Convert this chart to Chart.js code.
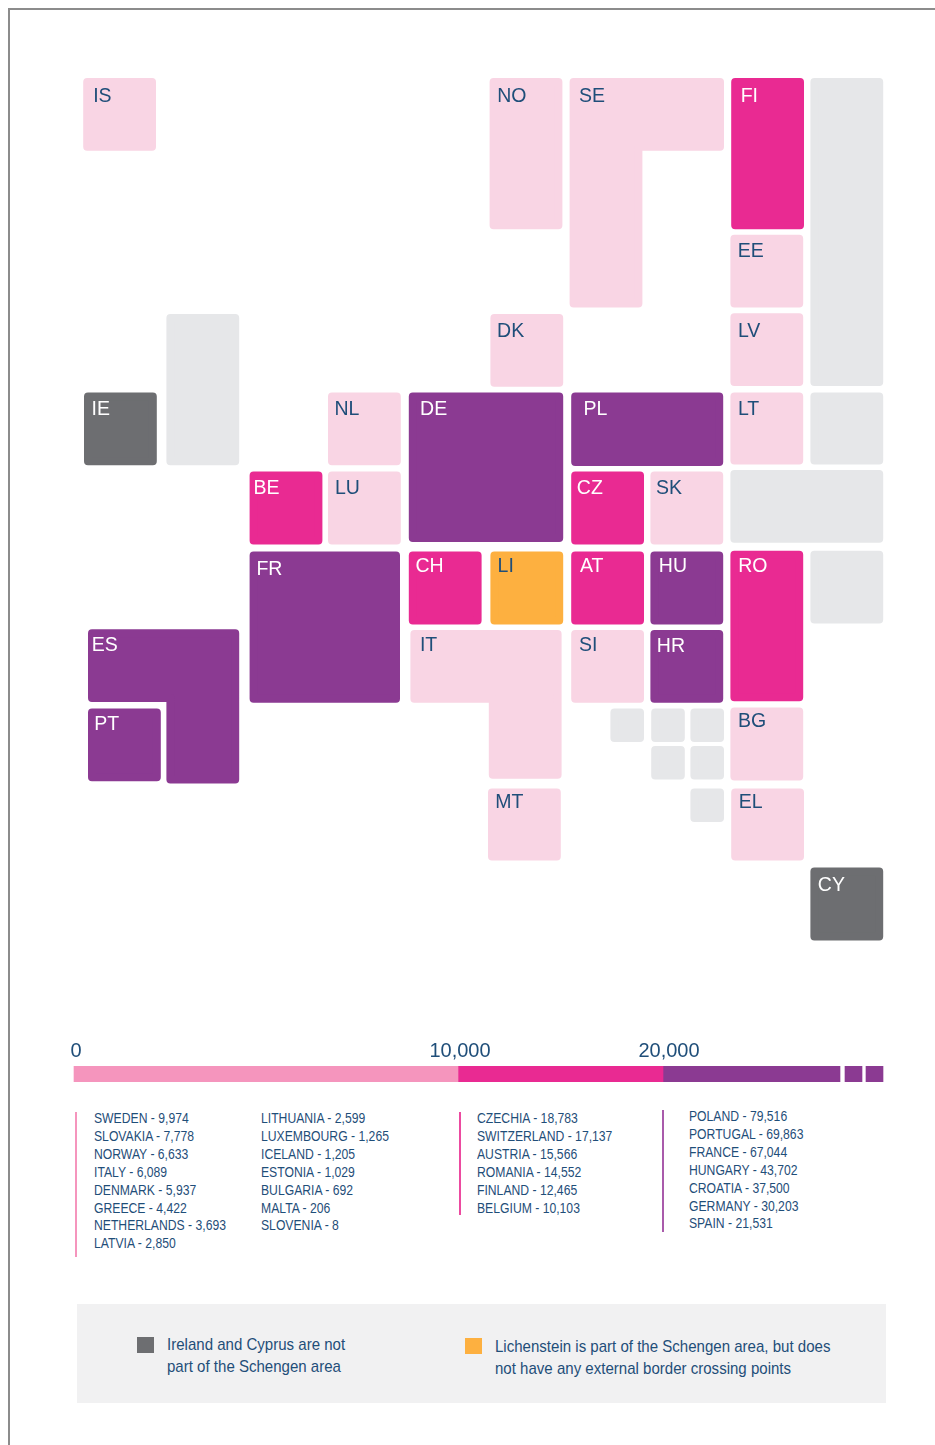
<!DOCTYPE html>
<html>
<head>
<meta charset="utf-8">
<title>External border crossing points</title>
<script src="https://cdn.jsdelivr.net/npm/chart.js@4"></script>
<style>
  html, body { margin: 0; padding: 0; background: #fff; }
  body { position: relative; width: 935px; height: 1445px; overflow: hidden; font-family: "Liberation Sans", Arial, sans-serif; color: #1f4e79; }
  canvas { position: absolute; left: 0; }
  #frameTop { position: absolute; left: 8px; top: 8px; right: 0; height: 2px; background: #8c8c8c; }
  #frameLeft { position: absolute; left: 8px; top: 8px; bottom: 0; width: 2px; background: #8c8c8c; }
  .list { position: absolute; font-size: 14px; line-height: 17.9px; white-space: nowrap; transform: scaleX(.87); transform-origin: left top; }
  .rule { position: absolute; width: 2px; }
  #noteBox { position: absolute; left: 77px; top: 1304px; width: 809px; height: 99px; background: #f1f1f2; }
  .swatch { position: absolute; width: 17px; height: 16px; }
  .note { position: absolute; font-size: 17px; line-height: 22px; white-space: nowrap; transform: scaleX(.885); transform-origin: left top; }
</style>
</head>
<body>
<div id="frameTop"></div>
<div id="frameLeft"></div>
<canvas id="mapChart" width="935" height="1000" style="top:0"></canvas>
<canvas id="barChart" width="935" height="60" style="top:1030px"></canvas>
<div class="rule" style="left:75px;top:1112px;height:145px;background:#f595bd"></div>
<div class="rule" style="left:459px;top:1112px;height:103px;background:#ec4aa0"></div>
<div class="rule" style="left:662px;top:1110px;height:122px;background:#a95bab"></div>
<div class="list" id="list1" style="left:94px;top:1110px"></div>
<div class="list" id="list2" style="left:261px;top:1110px"></div>
<div class="list" id="list3" style="left:477px;top:1110px"></div>
<div class="list" id="list4" style="left:689px;top:1108px"></div>
<div id="noteBox"></div>
<div class="swatch" style="left:137px;top:1337px;background:#6d6e71"></div>
<div class="note" style="left:167px;top:1334px">Ireland and Cyprus are not<br>part of the Schengen area</div>
<div class="swatch" style="left:465px;top:1338px;background:#fdb040"></div>
<div class="note" style="left:495px;top:1336px">Lichenstein is part of the Schengen area, but does<br>not have any external border crossing points</div>

<script>
// Countries and values
const countryCodes = ['SE','SK','NO','IT','DK','EL','NL','LV','LT','LU','IS','EE','BG','MT','SI','CZ','CH','AT','RO','FI','BE','PL','PT','FR','HU','HR','DE','ES'];
const countryNames = ['SWEDEN','SLOVAKIA','NORWAY','ITALY','DENMARK','GREECE','NETHERLANDS','LATVIA','LITHUANIA','LUXEMBOURG','ICELAND','ESTONIA','BULGARIA','MALTA','SLOVENIA','CZECHIA','SWITZERLAND','AUSTRIA','ROMANIA','FINLAND','BELGIUM','POLAND','PORTUGAL','FRANCE','HUNGARY','CROATIA','GERMANY','SPAIN'];
const countryValues = [9974,7778,6633,6089,5937,4422,3693,2850,2599,1265,1205,1029,692,206,8,18783,17137,15566,14552,12465,10103,79516,69863,67044,43702,37500,30203,21531];

// Tile grid, in grid cells. Empty code = country outside the data (grey)
const tileCodes = ['IS','NO','SE','FI','','EE','DK','LV','','IE','NL','DE','PL','LT','','BE','LU','CZ','SK','','FR','CH','LI','AT','HU','RO','','ES','PT','IT','SI','HR','BG','','','','','','','MT','EL','CY'];
const tileCols = [-0.01,5.07,6.07,8.09,9.08,8.08,5.08,8.08,1.03,0,3.05,4.06,6.09,8.08,9.08,2.07,3.05,6.09,7.08,8.08,2.07,4.06,5.08,6.09,7.08,8.08,9.08,0.05,0.05,4.08,6.09,7.08,8.08,6.58,7.09,7.58,7.09,7.58,7.58,5.05,8.09,9.08];
const tileRows = [0,0,0,0,0,1.96,2.95,2.94,2.95,3.93,3.93,3.93,3.93,3.93,3.93,4.92,4.92,4.92,4.92,4.9,5.92,5.92,5.92,5.92,5.92,5.91,5.91,6.89,7.88,6.9,6.9,6.9,7.87,7.88,7.88,7.88,8.35,8.35,8.88,8.88,8.88,9.87];
const tileWidths = [0.91,0.91,1.93,0.91,0.91,0.91,0.91,0.91,0.91,0.91,0.91,1.93,1.9,0.91,0.91,0.91,0.91,0.91,0.91,1.91,1.88,0.91,0.91,0.91,0.91,0.91,0.91,1.89,0.91,1.89,0.91,0.91,0.91,0.42,0.42,0.42,0.42,0.42,0.42,0.91,0.91,0.91];
const tileHeights = [0.91,1.89,2.87,1.89,3.85,0.91,0.91,0.91,1.89,0.91,0.91,1.87,0.92,0.9,0.9,0.91,0.91,0.91,0.91,0.91,1.89,0.91,0.91,0.91,0.91,1.88,0.91,1.93,0.91,1.86,0.91,0.91,0.91,0.42,0.42,0.42,0.42,0.42,0.42,0.9,0.9,0.91];
// L shaped tiles: [notch width, notch height], negative width = notch on the left
const tileNotches = { SE: [1.02, 1.96], ES: [-0.98, 1.02], IT: [-0.98, 0.95] };

// Scale bar
const bandLabels = ['0', '10,000', '20,000'];
const bandLengths = [384, 205, 177, 5, 17, 4, 17];
const bandTicks = [2, 386, 595];

const PALE = '#f9d5e4', BAND_PINK = '#f595bd', MAGENTA = '#e92a92', PURPLE = '#8b3a92';
const GREY = '#e6e7e9', DARK = '#6d6e71', ORANGE = '#fdb040', NAVY = '#1f4e79';

const labelOffsets = {
  IS:[9,24], NO:[6.6,24], SE:[8.5,24], FI:[8.5,24], EE:[6.3,23], DK:[5.7,23], LV:[6.5,24], IE:[6.5,23.3],
  NL:[5.5,23.3], DE:[10.3,23.3], PL:[11.3,23.3], LT:[6.5,23.3], BE:[3,23], LU:[5.9,23], CZ:[4.6,23], SK:[4.7,23],
  FR:[5.8,24], CH:[5.6,20.5], LI:[6.2,21], AT:[7.8,21], HU:[7.4,21], RO:[6.8,22], ES:[2.7,22], PT:[5.2,21.6],
  IT:[8.5,21.7], SI:[6.9,21.7], HR:[5.4,22.7], BG:[6.5,19.5], MT:[6.3,20.3], EL:[6.5,20.3], CY:[6.4,24]
};

function tileColour(code) {
  if (code === '') return GREY;
  if (code === 'IE' || code === 'CY') return DARK;
  if (code === 'LI') return ORANGE;
  const value = countryValues[countryCodes.indexOf(code)];
  if (value > 20000) return PURPLE;
  if (value > 10000) return MAGENTA;
  return PALE;
}

// closed outline of a tile, pulled in by the stroke so the round joins give the corners
const CORNER = 0.05;
function tileOutline(i) {
  const r = CORNER;
  const x0 = tileCols[i] + r, y0 = tileRows[i] + r;
  const x1 = tileCols[i] + tileWidths[i] - r, y1 = tileRows[i] + tileHeights[i] - r;
  const notch = tileNotches[tileCodes[i]];
  let pts;
  if (!notch) {
    pts = [[x0,y0],[x1,y0],[x1,y1],[x0,y1]];
  } else if (notch[0] > 0) {
    const nx = x1 - notch[0], ny = y1 - notch[1];
    pts = [[x0,y0],[x1,y0],[x1,ny],[nx,ny],[nx,y1],[x0,y1]];
  } else {
    const nx = x0 - notch[0], ny = y1 - notch[1];
    pts = [[x0,y0],[x1,y0],[x1,y1],[nx,y1],[nx,ny],[x0,ny]];
  }
  pts.push(pts[0]);
  return pts.map(p => ({ x: p[0], y: p[1] }));
}

const tileLabels = {
  id: 'tileLabels',
  afterDatasetsDraw(chart) {
    const ctx = chart.ctx;
    ctx.save();
    ctx.font = '19.5px "Liberation Sans", Arial, sans-serif';
    ctx.textAlign = 'left';
    ctx.textBaseline = 'alphabetic';
    tileCodes.forEach((code, i) => {
      if (code === '') return;
      const off = labelOffsets[code];
      const colour = tileColour(code);
      ctx.fillStyle = (colour === PALE || colour === ORANGE) ? NAVY : '#ffffff';
      ctx.fillText(code, chart.scales.x.getPixelForValue(tileCols[i]) + off[0] + 1, chart.scales.y.getPixelForValue(tileRows[i]) + off[1] - 0.5);
    });
    ctx.restore();
  }
};

new Chart('mapChart', {
  type: 'scatter',
  data: {
    datasets: tileCodes.map((code, i) => ({
      label: code,
      data: tileOutline(i),
      showLine: true,
      fill: 'shape',
      tension: 0,
      pointRadius: 0,
      backgroundColor: tileColour(code),
      borderColor: tileColour(code),
      borderWidth: CORNER * 160,
      borderJoinStyle: 'round',
      borderCapStyle: 'round'
    }))
  },
  options: {
    responsive: false,
    animation: false,
    layout: { padding: 0 },
    plugins: { legend: { display: false }, tooltip: { enabled: false } },
    scales: {
      x: { type: 'linear', display: false, min: -1.05, max: 10.6375 },
      y: { type: 'linear', display: false, reverse: true, min: -0.975, max: 11.525 }
    }
  },
  plugins: [tileLabels]
});

const bandColours = [BAND_PINK, MAGENTA, PURPLE, 'rgba(0,0,0,0)', PURPLE, 'rgba(0,0,0,0)', PURPLE];

new Chart('barChart', {
  type: 'bar',
  data: {
    labels: ['band'],
    datasets: bandLengths.map((len, i) => ({
      data: [len],
      backgroundColor: bandColours[i],
      barPercentage: 1,
      categoryPercentage: 1
    }))
  },
  options: {
    indexAxis: 'y',
    responsive: false,
    animation: false,
    layout: { padding: { top: 0, bottom: 8 } },
    plugins: { legend: { display: false }, tooltip: { enabled: false } },
    scales: {
      x: {
        type: 'linear',
        position: 'top',
        stacked: true,
        min: -74,
        max: 861,
        grid: { display: false, drawTicks: false },
        border: { display: false },
        afterBuildTicks(axis) { axis.ticks = bandTicks.map(v => ({ value: v })); },
        afterFit(axis) { axis.height = 36; },
        ticks: {
          autoSkip: false,
          maxRotation: 0,
          padding: 3,
          color: NAVY,
          font: { family: '"Liberation Sans", Arial, sans-serif', size: 20 },
          callback(value) { return bandLabels[bandTicks.indexOf(value)]; }
        }
      },
      y: { display: false, stacked: true }
    }
  }
});

// Lists under the scale bar
function listHtml(from, to) {
  let html = '';
  for (let i = from; i < to; i++) {
    html += countryNames[i] + ' - ' + countryValues[i].toLocaleString('en-US') + '<br>';
  }
  return html;
}
document.getElementById('list1').innerHTML = listHtml(0, 8);
document.getElementById('list2').innerHTML = listHtml(8, 15);
document.getElementById('list3').innerHTML = listHtml(15, 21);
document.getElementById('list4').innerHTML = listHtml(21, 28);
</script>
</body>
</html>
